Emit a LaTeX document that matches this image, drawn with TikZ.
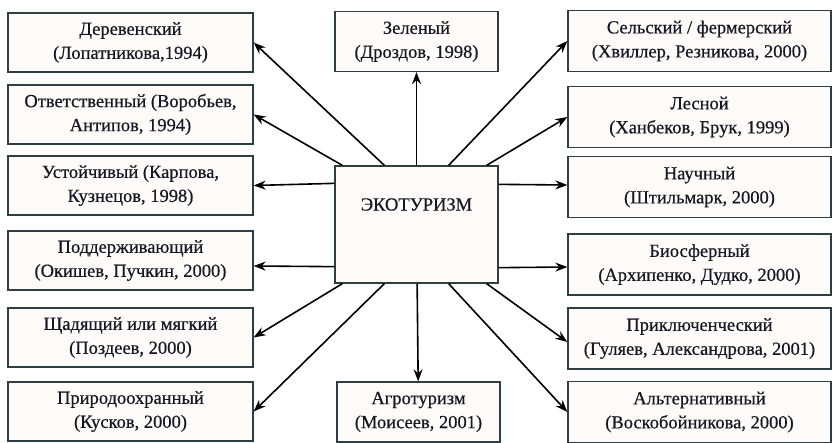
\documentclass[tikz,border=0pt]{standalone}
\usepackage{fontspec}
\setmainfont{Liberation Serif}[FakeBold=0.5]
\usetikzlibrary{arrows.meta}
\definecolor{boxline}{RGB}{45,62,68}
\definecolor{boxfill}{RGB}{254,251,249}
\definecolor{textcol}{RGB}{20,24,36}

\begin{document}
\begin{tikzpicture}[x=1pt,y=-1pt,->,>={Stealth[length=12pt,width=9pt]},
  line width=1.6pt,
  main node/.style={draw=boxline,fill=boxfill,line width=1.3pt,align=center,
    text=textcol,font=\rmfamily\fontsize{18.5}{24}\selectfont,inner sep=1pt},
  left node/.style={main node,minimum width=245pt,minimum height=59pt},
  right node/.style={main node,minimum width=263pt,minimum height=61pt},
  mid node/.style={main node,minimum width=163pt,minimum height=60pt}]

  \useasboundingbox[fill=white] (0,0) rectangle (833,442);

  \node[left node] (der) at (130.5,42.5) {Деревенский\\(Лопатникова,1994)};
  \node[left node] (otv) at (130.5,114.5) {Ответственный (Воробьев,\\Антипов, 1994)};
  \node[left node] (ust) at (130.5,185.5) {Устойчивый (Карпова,\\Кузнецов, 1998)};
  \node[left node] (pod) at (130.5,260.5) {Поддерживающий\\(Окишев, Пучкин, 2000)};
  \node[left node] (shch) at (130.5,337.5) {Щадящий или мягкий\\(Поздеев, 2000)};
  \node[left node] (prir) at (130.5,411.5) {Природоохранный\\(Кусков, 2000)};

  \node[right node] (sel) at (699.5,41) {Сельский / фермерский\\(Хвиллер, Резникова, 2000)};
  \node[right node] (les) at (699.5,117) {Лесной\\(Ханбеков, Брук, 1999)};
  \node[right node] (nauch) at (699.5,187) {Научный\\(Штильмарк, 2000)};
  \node[right node] (bio) at (699.5,264.5) {Биосферный\\(Архипенко, Дудко, 2000)};
  \node[right node] (prikl) at (699.5,338.5) {Приключенческий\\(Гуляев, Александрова, 2001)};
  \node[right node] (alt) at (699.5,412) {Альтернативный\\(Воскобойникова, 2000)};

  \node[mid node] (zel) at (416.5,41.5) {Зеленый\\(Дроздов, 1998)};
  \node[mid node] (agro) at (418.5,412) {Агротуризм\\(Моисеев, 2001)};
  \node[main node,minimum width=163pt,minimum height=117pt] (eco) at (416.5,224.5)
    {ЭКОТУРИЗМ\\[9pt]\strut};

  \path
    ([xshift=50pt]eco.north west) edge (der.east)
    ([xshift=8pt]eco.north west) edge (otv.east)
    ([yshift=-18pt]eco.north west) edge (ust.east)
    ([yshift=17pt]eco.south west) edge ([yshift=-5.5pt]pod.east)
    ([xshift=8pt]eco.south west) edge (shch.east)
    ([xshift=50pt]eco.south west) edge (prir.east)
    ([xshift=-50pt]eco.north east) edge (sel.west)
    ([xshift=-12pt]eco.north east) edge (les.west)
    ([yshift=-19pt]eco.north east) edge ([yshift=2pt]nauch.west)
    ([yshift=16pt]eco.south east) edge ([yshift=-2.5pt]bio.west)
    ([xshift=-12pt]eco.south east) edge ([yshift=-3.5pt]prikl.west)
    ([xshift=-50pt]eco.south east) edge (alt.west)
    (eco) edge (zel)
    (eco) edge (agro);
\end{tikzpicture}
\end{document}
